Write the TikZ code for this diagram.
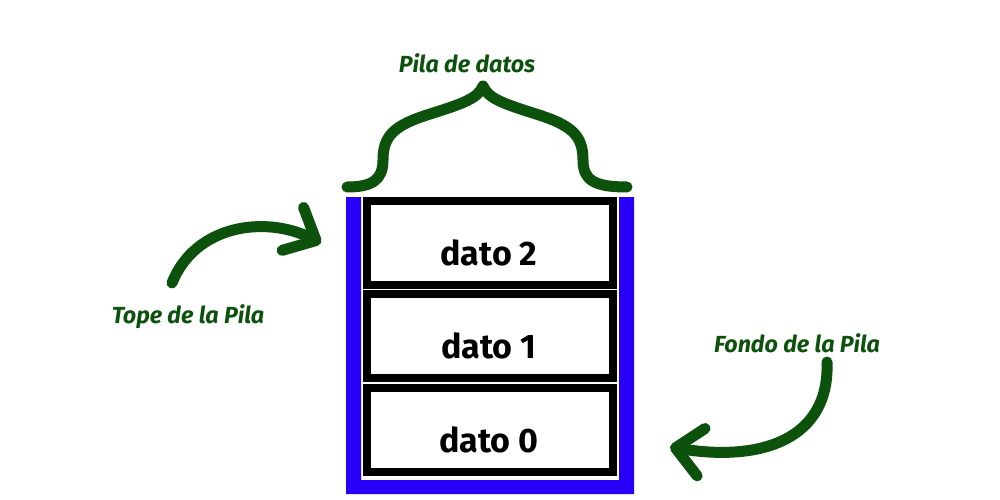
\documentclass[tikz,border=0pt]{standalone}
\usepackage{fontspec}
\setmainfont{Fira Sans}
\usetikzlibrary{arrows.meta}
\definecolor{dgreen}{RGB}{12,82,12}
\definecolor{sblue}{RGB}{40,0,250}
\tikzset{
  cell/.style={draw=black, line width=8pt, minimum width=246pt, minimum height=84pt, inner sep=0pt},
  celltext/.style={font=\bfseries\fontsize{34}{36}\selectfont, anchor=base},
  glabel/.style={text=dgreen, font=\bfseries\itshape\fontsize{23.3}{25}\selectfont, anchor=base},
  gline/.style={draw=dgreen, line width=11pt, line cap=round, line join=round},
  garrow/.style={gline, -{Straight Barb[length=26pt, width=48pt, round]}},
}
\begin{document}
\begin{tikzpicture}[x=1pt, y=-1pt]
\useasboundingbox (0,0) rectangle (1000,500);
\fill[white] (0,0) rectangle (1000,500);
% blue container
\fill[sblue] (346,197) -- (361,197) -- (361,480) -- (619,480) -- (619,197) -- (634,197) -- (634,494) -- (346,494) -- cycle;
% cells
\node[cell] (c2) at (489.5,243) {};
\node[cell] (c1) at (489.5,336) {};
\node[cell] (c0) at (489.5,429.5) {};
\node[celltext] (t2) at (489,265) {dato 2};
\node[celltext] (t1) at (489,358) {dato 1};
\node[celltext] (t0) at (489,452) {dato 0};
% brace
\coordinate (bl) at (347,187);
\coordinate (br) at (627,187);
\coordinate (btip) at (483,86);
\draw[gline] (bl) .. controls (372,187) and (383,180) .. (383,160)
  .. controls (383,135) and (395,125) .. (430,114)
  .. controls (465,103) and (478,98) .. (btip)
  .. controls (488,98) and (501,103) .. (536,114)
  .. controls (571,125) and (583,135) .. (583,160)
  .. controls (583,180) and (594,187) .. (br);
\node[glabel] (pd) at (467,73) {Pila de datos};
% tope
\node[glabel] (tope) at (188,323) {Tope de la Pila};
\coordinate (ts) at (172,283);
\coordinate (te) at (321,243);
\draw[garrow] (ts) .. controls (195,225) and (265,215) .. (te);
% fondo
\node[glabel] (fondo) at (797,352) {Fondo de la Pila};
\coordinate (fs) at (827,362);
\coordinate (fe) at (670,447);
\draw[garrow] (fs) .. controls (830,440) and (760,462) .. (fe);
\end{tikzpicture}
\end{document}
